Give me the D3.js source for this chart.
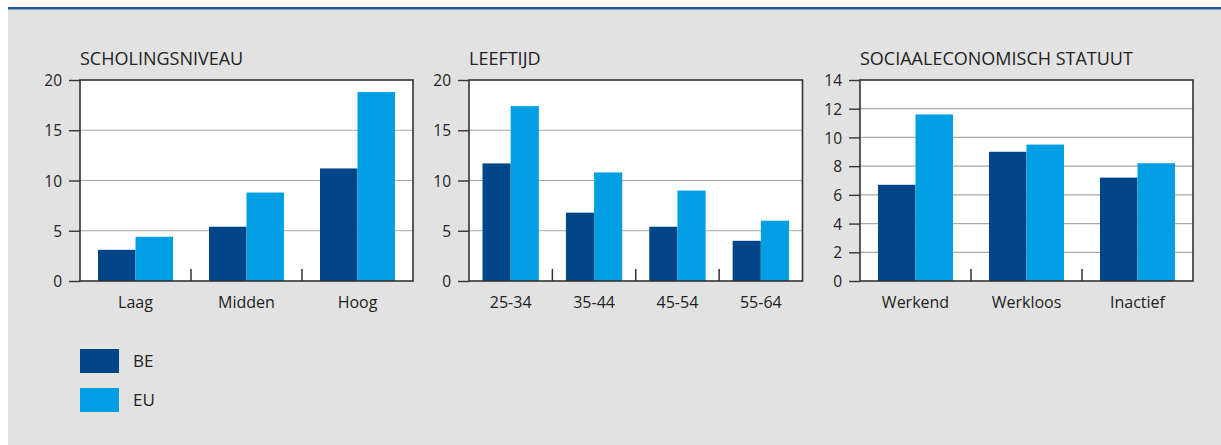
<!DOCTYPE html>
<html><head><meta charset="utf-8">
<script src="https://cdn.jsdelivr.net/npm/d3@7"></script>
<style>
body{margin:0;background:#fff;}
svg{display:block;font-family:"Open Sans",sans-serif;}
</style></head>
<body><svg id="c" width="1221" height="445"></svg>
<script>
const series = ["BE", "EU"];
const colors = ["#004588", "#009FE3"];

const titles = ["SCHOLINGSNIVEAU", "LEEFTIJD", "SOCIAALECONOMISCH STATUUT"];

const catsScholing = ["Laag", "Midden", "Hoog"];
const beScholing = [3.1, 5.4, 11.2];
const euScholing = [4.4, 8.8, 18.8];

const catsLeeftijd = ["25-34", "35-44", "45-54", "55-64"];
const beLeeftijd = [11.7, 6.8, 5.4, 4.0];
const euLeeftijd = [17.4, 10.8, 9.0, 6.0];

const catsStatuut = ["Werkend", "Werkloos", "Inactief"];
const beStatuut = [6.7, 9.0, 7.2];
const euStatuut = [11.6, 9.5, 8.2];

const ticksScholing = [0, 5, 10, 15, 20];
const ticksLeeftijd = [0, 5, 10, 15, 20];
const ticksStatuut = [0, 2, 4, 6, 8, 10, 12, 14];

const svg = d3.select("#c");
svg.append("rect").attr("x", 8).attr("y", 9).attr("width", 1213).attr("height", 436).attr("fill", "#e2e2e2");
svg.append("rect").attr("x", 8).attr("y", 7).attr("width", 1213).attr("height", 2.5).attr("fill", "#1f5c9e");

const panels = [
  {x0: 80, x1: 413, title: titles[0], cats: catsScholing, be: beScholing, eu: euScholing, ticks: ticksScholing},
  {x0: 469, x1: 802.5, title: titles[1], cats: catsLeeftijd, be: beLeeftijd, eu: euLeeftijd, ticks: ticksLeeftijd},
  {x0: 860, x1: 1193, title: titles[2], cats: catsStatuut, be: beStatuut, eu: euStatuut, ticks: ticksStatuut}
];
const yTop = 80, yBot = 281;

panels.forEach(p => {
  const g = svg.append("g");
  const x = d3.scaleBand().domain(p.cats).range([p.x0, p.x1]).paddingInner(0).paddingOuter(0);
  const inner = d3.scaleBand().domain(series).range([0, x.bandwidth()]).paddingInner(0).paddingOuter(0.48);
  const y = d3.scaleLinear().domain([0, d3.max(p.ticks)]).range([yBot, yTop]);

  g.append("rect").attr("x", p.x0).attr("y", yTop).attr("width", p.x1 - p.x0).attr("height", yBot - yTop).attr("fill", "#fff");

  g.selectAll("line.grid").data(p.ticks.slice(1, -1)).join("line")
    .attr("x1", p.x0).attr("x2", p.x1).attr("y1", d => y(d)).attr("y2", d => y(d))
    .attr("stroke", "#a8a8a8").attr("stroke-width", 1.2);

  const rows = p.cats.map((c, i) => ({cat: c, vals: [p.be[i], p.eu[i]]}));
  rows.forEach(r => {
    r.vals.forEach((v, j) => {
      g.append("rect")
        .attr("x", x(r.cat) + inner(series[j]))
        .attr("width", inner.bandwidth())
        .attr("y", y(v)).attr("height", yBot - y(v))
        .attr("fill", colors[j]);
    });
  });

  g.append("rect").attr("x", p.x0).attr("y", yTop).attr("width", p.x1 - p.x0).attr("height", yBot - yTop)
    .attr("fill", "none").attr("stroke", "#333").attr("stroke-width", 1.6);

  const ya = d3.axisLeft(y).tickValues(p.ticks).tickSize(11).tickPadding(7).tickFormat(d3.format("d"));
  const yg = g.append("g").attr("transform", `translate(${p.x0},0)`).call(ya);
  yg.select(".domain").remove();
  yg.selectAll(".tick line").attr("stroke", "#333").attr("stroke-width", 1.4);
  yg.selectAll(".tick text").attr("font-size", 15.5).attr("fill", "#222").attr("font-family", "Open Sans").attr("dy", "0.36em");

  g.selectAll("line.sep").data(p.cats.slice(1)).join("line")
    .attr("x1", d => x(d)).attr("x2", d => x(d)).attr("y1", yBot).attr("y2", yBot - 12)
    .attr("stroke", "#333").attr("stroke-width", 1.5);

  const xa = d3.axisBottom(x).tickSize(0).tickPadding(16);
  const xg = g.append("g").attr("transform", `translate(0,${yBot})`).call(xa);
  xg.select(".domain").remove();
  xg.selectAll(".tick text").attr("font-size", 16).attr("fill", "#222").attr("font-family", "Open Sans");

  g.append("text").attr("x", p.x0).attr("y", 65).text(p.title)
    .attr("font-size", 18).attr("fill", "#222");
});

const lg = svg.append("g");
series.forEach((s, i) => {
  lg.append("rect").attr("x", 80).attr("y", 349 + i * 39).attr("width", 39).attr("height", 24).attr("fill", colors[i]);
  lg.append("text").attr("x", 133).attr("y", 367 + i * 39).text(s).attr("font-size", 17).attr("fill", "#222");
});
</script></body></html>
